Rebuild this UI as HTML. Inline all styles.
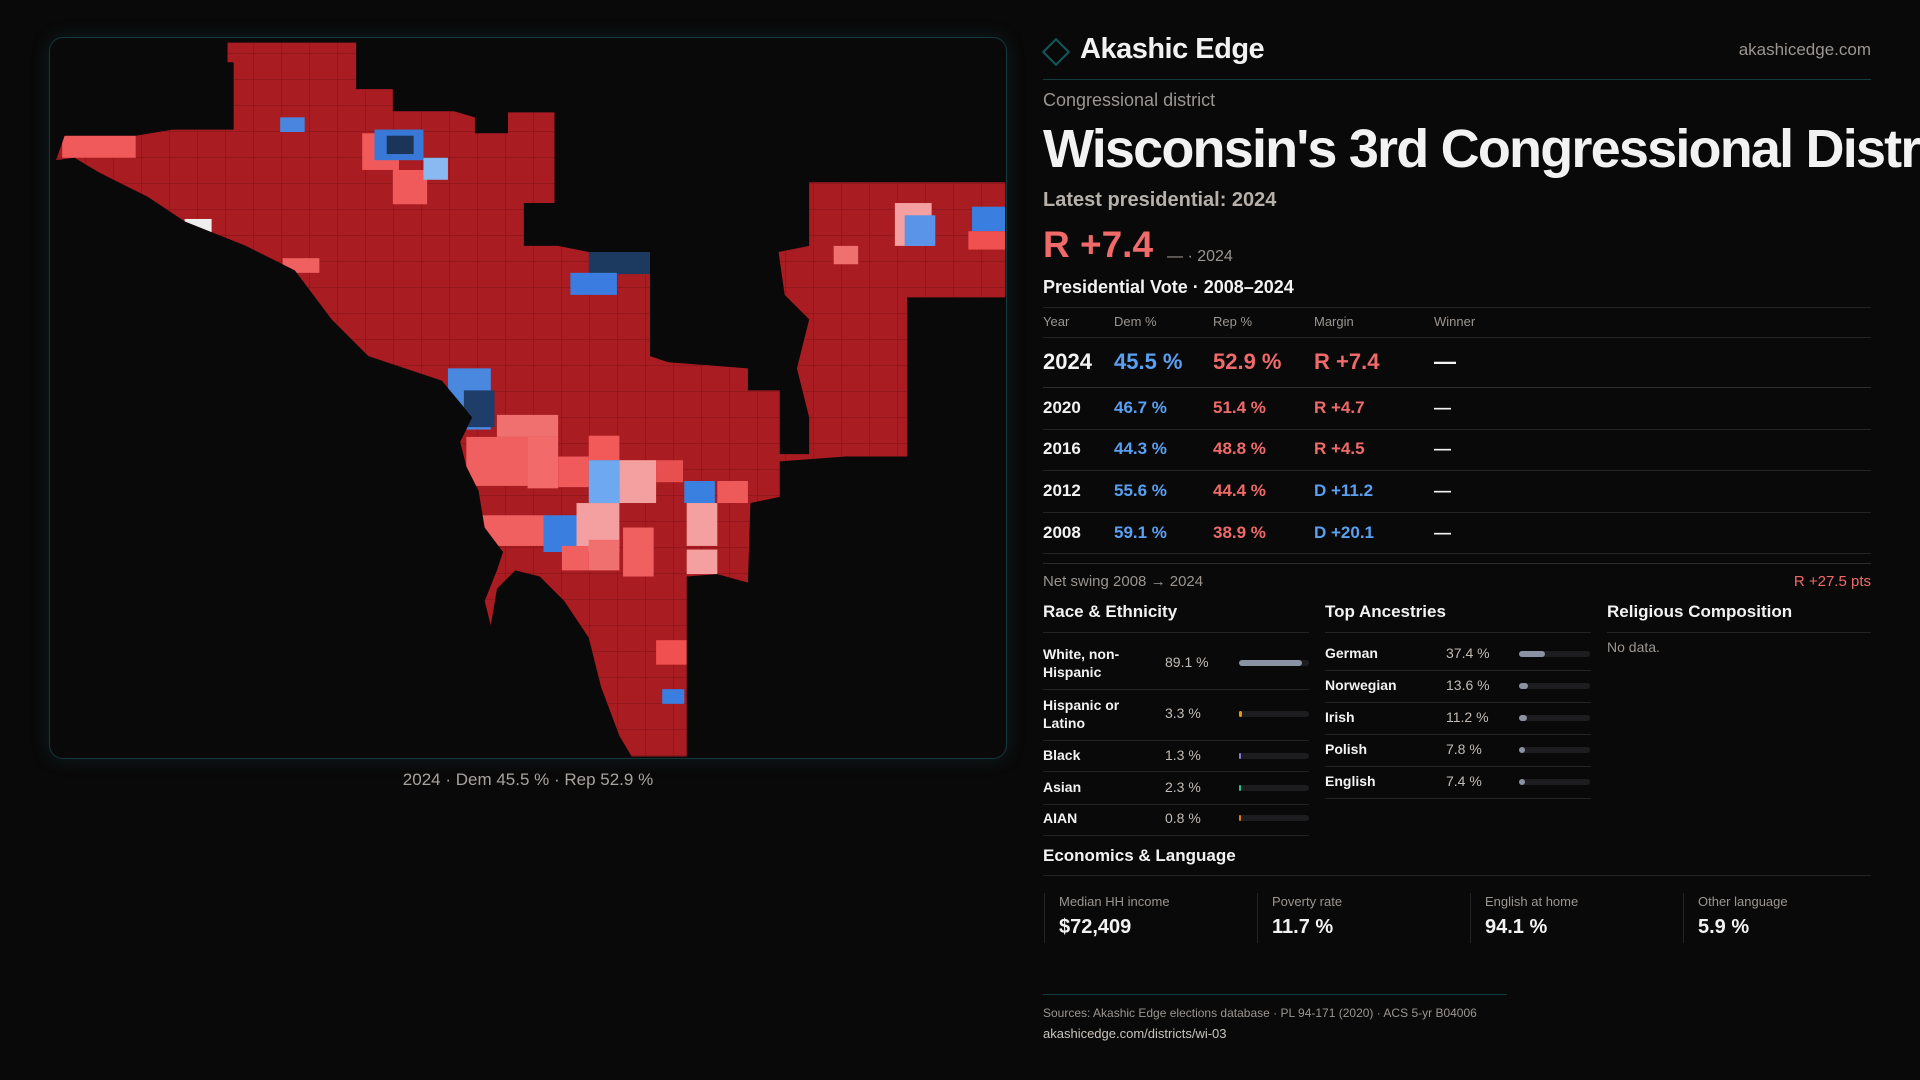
<!DOCTYPE html>
<html><head><meta charset="utf-8"><style>
*{margin:0;padding:0;box-sizing:border-box}
html,body{width:1920px;height:1080px;overflow:hidden}
body{background:#0a0909;font-family:"Liberation Sans",sans-serif;color:#f2f2f2;position:relative}
.a{position:absolute;white-space:nowrap}
.g{color:#9a9590}
.r{color:#f06a6a}.b{color:#5aa0f2}
.line{position:absolute;height:1px;background:#242424}
.bar{position:absolute;height:6px;border-radius:3px;background:#1d1d1f}
.fill{position:absolute;left:0;top:0;height:6px;border-radius:3px}
</style></head><body>

<div class="a" style="left:49px;top:37px;width:958px;height:722px;border:1px solid #143a3e;border-radius:14px;box-shadow:0 0 18px rgba(20,90,100,0.25);overflow:hidden">
<svg width="958" height="722" viewBox="49 37 958 722" style="display:block">
<defs>
<pattern id="grid" width="28" height="26" patternUnits="userSpaceOnUse"><path d="M0 0H28M0 0V26" stroke="#7d1418" stroke-width="1" fill="none"/></pattern>
<clipPath id="cp"><path id="shape" transform="scale(1.2245)" d="M185,34 L290,34 290,72 320,72 320,90 370,90 387,95 387,108 414,108 414,91 452,91 452,165 427,165 427,200 455,200 480,205 530,205 530,290 545,295 610,300 610,318 636,318 636,370 660,370 660,340 650,300 660,260 640,240 635,205 660,200 660,148 820,148 820,242 740,242 740,372 690,372 636,376 636,405 612,410 610,475 585,468 560,470 560,617 515,617 505,600 490,560 480,520 460,490 440,470 420,465 405,480 400,510 395,490 405,465 410,450 395,430 390,400 380,380 375,360 385,340 360,310 330,300 300,290 270,260 240,220 200,200 175,190 150,180 120,160 80,140 60,128 45,130 52,110 110,110 140,105 190,105 190,50 185,50Z"/></clipPath>
</defs>
<g clip-path="url(#cp)">
<rect x="0" y="0" width="1100" height="800" fill="#a81c22"/>
<rect x="0" y="0" width="1100" height="800" fill="url(#grid)"/>
<g transform="scale(1.2245)">
<rect x="50" y="110" width="60" height="18" fill="#f05a5a"/>
<rect x="150" y="178" width="22" height="22" fill="#eeeeee"/>
<rect x="295" y="108" width="30" height="30" fill="#f05a5a"/>
<rect x="320" y="138" width="28" height="28" fill="#f05a5a"/>
<rect x="305" y="105" width="40" height="25" fill="#3a78d8"/>
<rect x="315" y="110" width="22" height="15" fill="#1a3558"/>
<rect x="345" y="128" width="20" height="18" fill="#8ab8f0"/>
<rect x="228" y="95" width="20" height="12" fill="#4a86e0"/>
<rect x="480" y="205" width="50" height="18" fill="#1c3a60"/>
<rect x="465" y="222" width="38" height="18" fill="#3a7ce0"/>
<rect x="365" y="300" width="35" height="50" fill="#4a88e0"/>
<rect x="378" y="318" width="25" height="30" fill="#1e3d68"/>
<rect x="405" y="338" width="50" height="18" fill="#f07070"/>
<rect x="380" y="356" width="50" height="40" fill="#f06060"/>
<rect x="430" y="356" width="25" height="42" fill="#f26a6a"/>
<rect x="455" y="372" width="25" height="25" fill="#f05a5a"/>
<rect x="480" y="355" width="25" height="20" fill="#f25a5a"/>
<rect x="480" y="375" width="25" height="35" fill="#6ea8f0"/>
<rect x="505" y="375" width="30" height="35" fill="#f4a0a0"/>
<rect x="535" y="375" width="22" height="18" fill="#e85050"/>
<rect x="558" y="392" width="25" height="18" fill="#3a80e0"/>
<rect x="585" y="392" width="25" height="18" fill="#ee5a5a"/>
<rect x="560" y="410" width="25" height="35" fill="#f4a0a0"/>
<rect x="390" y="420" width="55" height="25" fill="#f06060"/>
<rect x="443" y="420" width="30" height="30" fill="#3a7ee0"/>
<rect x="470" y="410" width="35" height="40" fill="#f4a0a0"/>
<rect x="480" y="440" width="25" height="25" fill="#f07070"/>
<rect x="508" y="430" width="25" height="40" fill="#f06060"/>
<rect x="458" y="445" width="22" height="20" fill="#f06060"/>
<rect x="560" y="448" width="25" height="20" fill="#f4a0a0"/>
<rect x="535" y="522" width="25" height="20" fill="#f05050"/>
<rect x="540" y="562" width="18" height="12" fill="#3a7ee0"/>
<rect x="730" y="165" width="30" height="35" fill="#f4a0a0"/>
<rect x="738" y="175" width="25" height="25" fill="#5a94e8"/>
<rect x="793" y="168" width="27" height="20" fill="#3a7ee0"/>
<rect x="790" y="188" width="30" height="15" fill="#f05050"/>
<rect x="680" y="200" width="20" height="15" fill="#f07070"/>
<rect x="230" y="210" width="30" height="12" fill="#f06060"/>
</g>
</g>
</svg>
</div>
<div class="a" style="left:49px;width:958px;top:770px;text-align:center;font-size:17px;color:#a7a29c">2024 · Dem 45.5 % · Rep 52.9 %</div>

<div class="a" style="left:1046px;top:42px;width:20px;height:20px;border:2px solid #15585c;transform:rotate(45deg)"></div>
<div class="a" style="left:1080px;top:33px;font-size:29px;font-weight:bold;letter-spacing:-0.5px">Akashic Edge</div>
<div class="a g" style="right:49px;top:40px;font-size:17px">akashicedge.com</div>
<div class="line" style="left:1043px;top:79px;width:828px;background:#123c40"></div>
<div class="a g" style="left:1043px;top:90px;font-size:18px">Congressional district</div>
<div style="position:absolute;left:1043px;top:114px;width:877px;height:70px;overflow:hidden">
<div class="a" style="left:0;top:4px;font-size:54px;font-weight:bold;letter-spacing:-1.8px">Wisconsin's 3rd Congressional District</div></div>
<div class="a" style="left:1043px;top:189px;font-size:20px;color:#b5b0aa;font-weight:bold">Latest presidential: 2024</div>
<div class="a r" style="left:1043px;top:224px;font-size:37px;font-weight:bold">R +7.4</div>
<div class="a g" style="left:1167px;top:248px;font-size:16px">— · 2024</div>
<div class="a" style="left:1043px;top:277px;font-size:18px;font-weight:bold">Presidential Vote · 2008–2024</div>
<div class="line" style="left:1043px;top:307px;width:828px"></div>
<div class="a g" style="left:1043px;top:314px;font-size:13px">Year</div>
<div class="a g" style="left:1114px;top:314px;font-size:13px">Dem %</div>
<div class="a g" style="left:1213px;top:314px;font-size:13px">Rep %</div>
<div class="a g" style="left:1314px;top:314px;font-size:13px">Margin</div>
<div class="a g" style="left:1434px;top:314px;font-size:13px">Winner</div>
<div class="line" style="left:1043px;top:337px;width:828px"></div>
<div style="position:absolute;left:1043px;top:349px;font-size:22px;font-weight:bold">
<span class="a" style="left:0">2024</span><span class="a b" style="left:71px">45.5 %</span><span class="a r" style="left:170px">52.9 %</span><span class="a r" style="left:271px">R +7.4</span><span class="a" style="left:391px">—</span></div>
<div class="line" style="left:1043px;top:387px;width:828px;background:#2e2e2e"></div>
<div style="position:absolute;left:1043px;top:398px;font-size:17px;font-weight:bold">
<span class="a" style="left:0">2020</span><span class="a b" style="left:71px">46.7 %</span><span class="a r" style="left:170px">51.4 %</span><span class="a r" style="left:271px">R +4.7</span><span class="a" style="left:391px">—</span></div>
<div class="line" style="left:1043px;top:429px;width:828px"></div>
<div style="position:absolute;left:1043px;top:439px;font-size:17px;font-weight:bold">
<span class="a" style="left:0">2016</span><span class="a b" style="left:71px">44.3 %</span><span class="a r" style="left:170px">48.8 %</span><span class="a r" style="left:271px">R +4.5</span><span class="a" style="left:391px">—</span></div>
<div class="line" style="left:1043px;top:470px;width:828px"></div>
<div style="position:absolute;left:1043px;top:481px;font-size:17px;font-weight:bold">
<span class="a" style="left:0">2012</span><span class="a b" style="left:71px">55.6 %</span><span class="a r" style="left:170px">44.4 %</span><span class="a b" style="left:271px">D +11.2</span><span class="a" style="left:391px">—</span></div>
<div class="line" style="left:1043px;top:512px;width:828px"></div>
<div style="position:absolute;left:1043px;top:523px;font-size:17px;font-weight:bold">
<span class="a" style="left:0">2008</span><span class="a b" style="left:71px">59.1 %</span><span class="a r" style="left:170px">38.9 %</span><span class="a b" style="left:271px">D +20.1</span><span class="a" style="left:391px">—</span></div>
<div class="line" style="left:1043px;top:553px;width:828px"></div>
<div class="line" style="left:1043px;top:563px;width:828px;background:#2a2a2a"></div>
<div class="a g" style="left:1043px;top:573px;font-size:15px">Net swing 2008 → 2024</div>
<div class="a r" style="right:49px;top:573px;font-size:15px">R +27.5 pts</div>

<div class="a" style="left:1043px;top:602px;font-size:17px;font-weight:bold">Race &amp; Ethnicity</div>
<div class="a" style="left:1325px;top:602px;font-size:17px;font-weight:bold">Top Ancestries</div>
<div class="a" style="left:1607px;top:602px;font-size:17px;font-weight:bold">Religious Composition</div>
<div class="line" style="left:1043px;top:632px;width:266px"></div>
<div class="line" style="left:1325px;top:632px;width:266px"></div>
<div class="line" style="left:1607px;top:632px;width:264px"></div>
<div class="a g" style="left:1607px;top:639px;font-size:14px">No data.</div>

<div style="position:absolute;left:1043px;top:0;font-size:14px;font-weight:bold">
<div class="a" style="left:0;top:645px;line-height:18px">White, non-<br>Hispanic</div>
<div class="a" style="left:0;top:696px;line-height:18px">Hispanic or<br>Latino</div>
<div class="a" style="left:0;top:747px">Black</div>
<div class="a" style="left:0;top:779px">Asian</div>
<div class="a" style="left:0;top:810px">AIAN</div>
</div>
<div style="position:absolute;left:1165px;top:0;font-size:14px;color:#c0bbb5">
<div class="a" style="top:654px">89.1 %</div><div class="a" style="top:705px">3.3 %</div><div class="a" style="top:747px">1.3 %</div><div class="a" style="top:779px">2.3 %</div><div class="a" style="top:810px">0.8 %</div></div>
<div class="bar" style="left:1239px;top:660px;width:70px"><div class="fill" style="width:63px;background:#8a93a3"></div></div>
<div class="bar" style="left:1239px;top:711px;width:70px"><div class="fill" style="width:3px;background:#e6960c"></div></div>
<div class="bar" style="left:1239px;top:753px;width:70px"><div class="fill" style="width:2px;background:#8a7ad8"></div></div>
<div class="bar" style="left:1239px;top:785px;width:70px"><div class="fill" style="width:2px;background:#2cc08a"></div></div>
<div class="bar" style="left:1239px;top:815px;width:70px"><div class="fill" style="width:2px;background:#e07a20"></div></div>
<div class="line" style="left:1043px;top:689px;width:266px"></div>
<div class="line" style="left:1043px;top:740px;width:266px"></div>
<div class="line" style="left:1043px;top:771px;width:266px"></div>
<div class="line" style="left:1043px;top:804px;width:266px"></div>
<div class="line" style="left:1043px;top:835px;width:266px"></div>

<div style="position:absolute;left:1325px;top:0;font-size:14px;font-weight:bold">
<div class="a" style="top:645px">German</div><div class="a" style="top:677px">Norwegian</div><div class="a" style="top:709px">Irish</div><div class="a" style="top:741px">Polish</div><div class="a" style="top:773px">English</div></div>
<div style="position:absolute;left:1446px;top:0;font-size:14px;color:#c0bbb5">
<div class="a" style="top:645px">37.4 %</div><div class="a" style="top:677px">13.6 %</div><div class="a" style="top:709px">11.2 %</div><div class="a" style="top:741px">7.8 %</div><div class="a" style="top:773px">7.4 %</div></div>
<div class="bar" style="left:1519px;top:651px;width:71px"><div class="fill" style="width:26px;background:#8a93a3"></div></div>
<div class="bar" style="left:1519px;top:683px;width:71px"><div class="fill" style="width:9px;background:#8a93a3"></div></div>
<div class="bar" style="left:1519px;top:715px;width:71px"><div class="fill" style="width:8px;background:#8a93a3"></div></div>
<div class="bar" style="left:1519px;top:747px;width:71px"><div class="fill" style="width:6px;background:#8a93a3"></div></div>
<div class="bar" style="left:1519px;top:779px;width:71px"><div class="fill" style="width:6px;background:#8a93a3"></div></div>
<div class="line" style="left:1325px;top:670px;width:266px"></div>
<div class="line" style="left:1325px;top:702px;width:266px"></div>
<div class="line" style="left:1325px;top:734px;width:266px"></div>
<div class="line" style="left:1325px;top:766px;width:266px"></div>
<div class="line" style="left:1325px;top:798px;width:266px"></div>

<div class="a" style="left:1043px;top:846px;font-size:17px;font-weight:bold">Economics &amp; Language</div>
<div class="line" style="left:1043px;top:875px;width:828px"></div>
<div style="position:absolute;left:1044px;top:893px;width:1px;height:50px;background:#242424"></div>
<div style="position:absolute;left:1257px;top:893px;width:1px;height:50px;background:#242424"></div>
<div style="position:absolute;left:1470px;top:893px;width:1px;height:50px;background:#242424"></div>
<div style="position:absolute;left:1683px;top:893px;width:1px;height:50px;background:#242424"></div>
<div class="a g" style="left:1059px;top:894px;font-size:13px">Median HH income</div>
<div class="a g" style="left:1272px;top:894px;font-size:13px">Poverty rate</div>
<div class="a g" style="left:1485px;top:894px;font-size:13px">English at home</div>
<div class="a g" style="left:1698px;top:894px;font-size:13px">Other language</div>
<div class="a" style="left:1059px;top:916px;font-size:20px;font-weight:bold">$72,409</div>
<div class="a" style="left:1272px;top:916px;font-size:20px;font-weight:bold">11.7 %</div>
<div class="a" style="left:1485px;top:916px;font-size:20px;font-weight:bold">94.1 %</div>
<div class="a" style="left:1698px;top:916px;font-size:20px;font-weight:bold">5.9 %</div>

<div class="line" style="left:1043px;top:994px;width:464px;background:#123c40"></div>
<div class="a g" style="left:1043px;top:1006px;font-size:12px">Sources: Akashic Edge elections database · PL 94-171 (2020) · ACS 5-yr B04006</div>
<div class="a" style="left:1043px;top:1026px;font-size:13px;color:#c8c3bd">akashicedge.com/districts/wi-03</div>
</body></html>
